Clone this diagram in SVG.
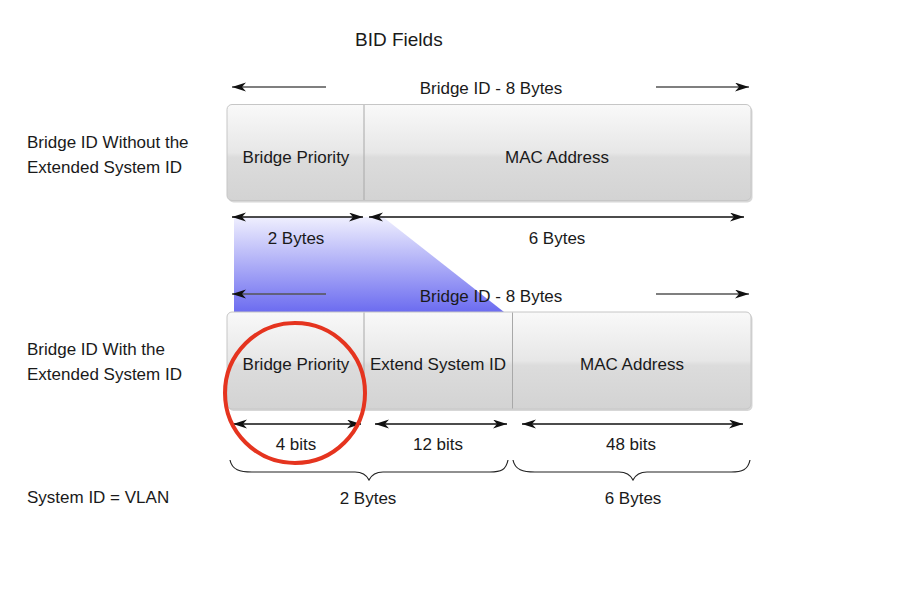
<svg xmlns="http://www.w3.org/2000/svg" width="905" height="616" viewBox="0 0 905 616">
<defs>
<linearGradient id="barGrad" x1="0" y1="0" x2="0" y2="1">
<stop offset="0" stop-color="#f9f9f9"/>
<stop offset="0.5" stop-color="#e7e7e7"/>
<stop offset="0.55" stop-color="#dcdcdc"/>
<stop offset="1" stop-color="#d3d3d3"/>
</linearGradient>
<linearGradient id="blueGrad" x1="0" y1="0" x2="0" y2="1">
<stop offset="0" stop-color="#efeffe"/>
<stop offset="1" stop-color="#6c6cf0"/>
</linearGradient>
<marker id="ah" markerUnits="userSpaceOnUse" markerWidth="15" markerHeight="10" refX="14" refY="4.5" orient="auto-start-reverse">
<path d="M0,0 L14,4.5 L0,9 L4,4.5 Z" fill="#111"/>
</marker>
</defs>
<style>
text{font-family:"Liberation Sans",Arial,sans-serif;font-size:17px;fill:#1a1a1a}
.c{text-anchor:middle}
.bar{fill:url(#barGrad);stroke:#c6c6c6;stroke-width:1}
.shadow{fill:#bdbdbd}
.div{stroke:#a8a8a8;stroke-width:1}
.len{stroke:#555;stroke-width:1.4;fill:none}
.dbl{stroke:#111;stroke-width:1.3;fill:none}
.brace{stroke:#222;stroke-width:1.2;fill:none}
</style>
<rect width="905" height="616" fill="#ffffff"/>

<g id="title"><text x="355" y="46" style="font-size:19px">BID Fields</text></g>

<g id="labels-left">
<text x="27" y="148">Bridge ID Without the</text>
<text x="27" y="173">Extended System ID</text>
<text x="27" y="355">Bridge ID With the</text>
<text x="27" y="380">Extended System ID</text>
<text x="27" y="503">System ID = VLAN</text>
</g>

<g id="highlight">
<polygon points="234,217 383,217 504,312 234,312" fill="url(#blueGrad)"/>
</g>

<g id="bar1">
<rect class="shadow" x="228.5" y="106.5" width="524" height="96" rx="5" opacity="0.6"/>
<rect class="bar" x="227" y="104.5" width="524" height="96" rx="5"/>
<line class="div" x1="364" y1="105" x2="364" y2="200"/>
<text class="c" x="296" y="163">Bridge Priority</text>
<text class="c" x="557" y="163">MAC Address</text>
</g>

<g id="bar2">
<rect class="shadow" x="228.5" y="314" width="524" height="97" rx="5" opacity="0.6"/>
<rect class="bar" x="227" y="312" width="524" height="97" rx="5"/>
<line class="div" x1="364" y1="312.5" x2="364" y2="408.5"/>
<line class="div" x1="512.5" y1="312.5" x2="512.5" y2="408.5"/>
<text class="c" x="296" y="370">Bridge Priority</text>
<text class="c" x="438" y="370">Extend System ID</text>
<text class="c" x="632" y="370">MAC Address</text>
</g>

<g id="connectors">
<line class="len" x1="326" y1="87" x2="232" y2="87" marker-end="url(#ah)"/>
<line class="len" x1="656" y1="87" x2="749" y2="87" marker-end="url(#ah)"/>
<line class="dbl" x1="232" y1="217" x2="363" y2="217" marker-start="url(#ah)" marker-end="url(#ah)"/>
<line class="dbl" x1="369" y1="217" x2="744" y2="217" marker-start="url(#ah)" marker-end="url(#ah)"/>
<line class="len" x1="326" y1="294" x2="232" y2="294" marker-end="url(#ah)"/>
<line class="len" x1="656" y1="294" x2="749" y2="294" marker-end="url(#ah)"/>
<line class="dbl" x1="233" y1="424" x2="361" y2="424" marker-start="url(#ah)" marker-end="url(#ah)"/>
<line class="dbl" x1="375" y1="424" x2="507" y2="424" marker-start="url(#ah)" marker-end="url(#ah)"/>
<line class="dbl" x1="522" y1="424" x2="743" y2="424" marker-start="url(#ah)" marker-end="url(#ah)"/>
<path class="brace" d="M230,460 C232,470 240,472 252,472 L355,472 C363,472 367,476 369,480 C371,476 375,472 383,472 L490,472 C501,472 506,470 508,460"/>
<path class="brace" d="M513,460 C515,470 523,472 535,472 L619,472 C627,472 631,476 633,480 C635,476 639,472 647,472 L731,472 C742,472 748,470 750,460"/>
</g>

<g id="dimension-labels">
<text class="c" x="491" y="94">Bridge ID - 8 Bytes</text>
<text class="c" x="296" y="244">2 Bytes</text>
<text class="c" x="557" y="244">6 Bytes</text>
<text class="c" x="491" y="302">Bridge ID - 8 Bytes</text>
<text class="c" x="296" y="450">4 bits</text>
<text class="c" x="438" y="450">12 bits</text>
<text class="c" x="631" y="450">48 bits</text>
<text class="c" x="368" y="504">2 Bytes</text>
<text class="c" x="633" y="504">6 Bytes</text>
</g>

<g id="circle">
<circle cx="295" cy="393" r="70" fill="none" stroke="#e5341f" stroke-width="4"/>
</g>
</svg>
